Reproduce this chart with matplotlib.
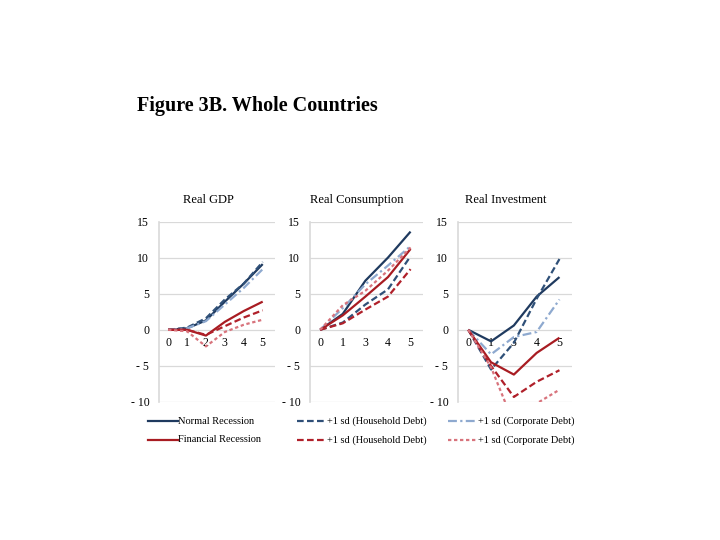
import matplotlib

matplotlib.use("Agg")
import matplotlib.pyplot as plt
from matplotlib.lines import Line2D

plt.rcParams["font.family"] = ["Liberation Serif", "DejaVu Serif"]

# colours / styles for the six series
NAVY = "#1F3A5F"
NAVY_D = "#2F5078"
LBLUE = "#8EA9CF"
RED = "#A81C22"
RED_D = "#B0202A"
PINK = "#D8737C"
GRID = "#D9D9D9"

# ---- data ------------------------------------------------------------------
gdp_ticks = ["0", "1", "2", "3", "4", "5"]
gdp_normal = [0, 0.2, 1.3, 3.9, 6.4, 9.1]
gdp_normal_hh = [0, 0.3, 1.6, 4.2, 6.4, 9.4]
gdp_normal_corp = [0, 0.2, 1.2, 3.5, 5.8, 8.4]
gdp_fin = [0, 0.0, -0.8, 1.1, 2.6, 3.9]
gdp_fin_hh = [0, 0.0, -0.7, 0.5, 1.7, 2.7]
gdp_fin_corp = [0, -0.2, -2.3, -0.3, 0.7, 1.4]

cons_ticks = ["0", "1", "3", "4", "5"]
cons_normal = [0, 2.2, 6.8, 10.0, 13.6]
cons_normal_hh = [0, 1.0, 3.5, 5.6, 10.2]
cons_normal_corp = [0, 3.0, 6.3, 8.9, 11.6]
cons_fin = [0, 2.0, 4.6, 7.3, 11.2]
cons_fin_hh = [0, 0.9, 2.8, 4.6, 8.4]
cons_fin_corp = [0, 3.4, 5.4, 8.2, 11.4]

inv_ticks = ["0", "1", "3", "4", "5"]
inv_normal = [0, -1.6, 0.6, 4.6, 7.3]
inv_normal_hh = [0, -5.5, -1.8, 4.3, 9.8]
inv_normal_corp = [0, -3.4, -1.0, -0.3, 4.2]
inv_fin = [0, -4.5, -6.2, -3.2, -1.1]
inv_fin_hh = [0, -5.0, -9.3, -7.2, -5.6]
inv_fin_corp = [0, -5.2, -13.0, -10.2, -8.3]

titles = ["Real GDP", "Real Consumption", "Real Investment"]
ytick_vals = [15, 10, 5, 0, -5, -10]
ytick_labels = ["15", "10", "5", "0", "- 5", "- 10"]

legend_labels = ["Normal Recession", "+1 sd (Household Debt)", "+1 sd (Corporate Debt)",
                 "Financial Recession", "+1 sd (Household Debt)", "+1 sd (Corporate Debt)"]

panels = [
    (gdp_ticks, [gdp_normal, gdp_normal_hh, gdp_normal_corp, gdp_fin, gdp_fin_hh, gdp_fin_corp]),
    (cons_ticks, [cons_normal, cons_normal_hh, cons_normal_corp, cons_fin, cons_fin_hh, cons_fin_corp]),
    (inv_ticks, [inv_normal, inv_normal_hh, inv_normal_corp, inv_fin, inv_fin_hh, inv_fin_corp]),
]

styles = [
    dict(color=NAVY, ls="-", lw=1.6),
    dict(color=NAVY_D, ls=(0, (3, 1.5)), lw=1.6),
    dict(color=LBLUE, ls=(0, (4, 1.5, 1, 1.5)), lw=1.6),
    dict(color=RED, ls="-", lw=1.6),
    dict(color=RED_D, ls=(0, (3, 1.5)), lw=1.6),
    dict(color=PINK, ls=(0, (1.5, 1.2)), lw=1.6),
]

fig = plt.figure(figsize=(7.2, 5.4), dpi=100)
fig.patch.set_facecolor("white")

fig.text(137 / 720, 1 - 106 / 540, "Figure 3B. Whole Countries", fontsize=14.5,
         fontweight="bold", ha="left", va="center")

# axes boxes in pixels: left, right
boxes = [(159, 275), (310, 423), (458, 572)]
title_x = [208, 357, 506]
top_px, bot_px = 221.5, 402

for i, ((ticks, series), (l, r)) in enumerate(zip(panels, boxes)):
    ax = fig.add_axes([l / 720, 1 - bot_px / 540, (r - l) / 720, (bot_px - top_px) / 540])
    x = list(range(len(ticks)))
    for s, st in zip(series, styles):
        ax.plot(x, s, solid_capstyle="butt", dash_capstyle="butt", **st)
    n = len(ticks) - 1
    if n == 5:
        ax.set_xlim(-0.48, n + 0.65)
    else:
        ax.set_xlim(-0.45, n + 0.55)
    ax.set_ylim(-10, 15)
    ax.set_yticks(ytick_vals)
    ax.set_yticklabels(ytick_labels)
    ax.set_xticks(x)
    ax.set_xticklabels(ticks)
    ax.grid(axis="y", color=GRID, lw=0.9)
    ax.set_axisbelow(True)
    for sp in ["top", "right"]:
        ax.spines[sp].set_visible(False)
    ax.spines["left"].set_color(GRID)
    ax.spines["left"].set_linewidth(1.2)
    ax.spines["bottom"].set_position(("data", 0))
    ax.spines["bottom"].set_visible(False)
    ax.tick_params(axis="both", length=0, labelsize=8.5)
    ax.tick_params(axis="y", pad=7)
    ax.tick_params(axis="x", pad=5)
    fig.text(title_x[i] / 720, 1 - 200 / 540, titles[i], fontsize=9,
             ha="center", va="center")

# legend, 2 rows x 3 columns
leg_x = [148, 297, 448]
leg_y = [421, 440]
for k, (lab, st) in enumerate(zip(legend_labels, styles)):
    row, col = divmod(k, 3)
    x0 = leg_x[col] / 720
    y0 = 1 - leg_y[row] / 540
    fig.add_artist(Line2D([x0, x0 + 30 / 720], [y0, y0], transform=fig.transFigure,
                          color=st["color"], ls=st["ls"], lw=st["lw"]))
    fig.text(x0 + 30 / 720, y0, lab, fontsize=7.5, ha="left", va="center")

fig.savefig("out.png", dpi=100, facecolor="white")
